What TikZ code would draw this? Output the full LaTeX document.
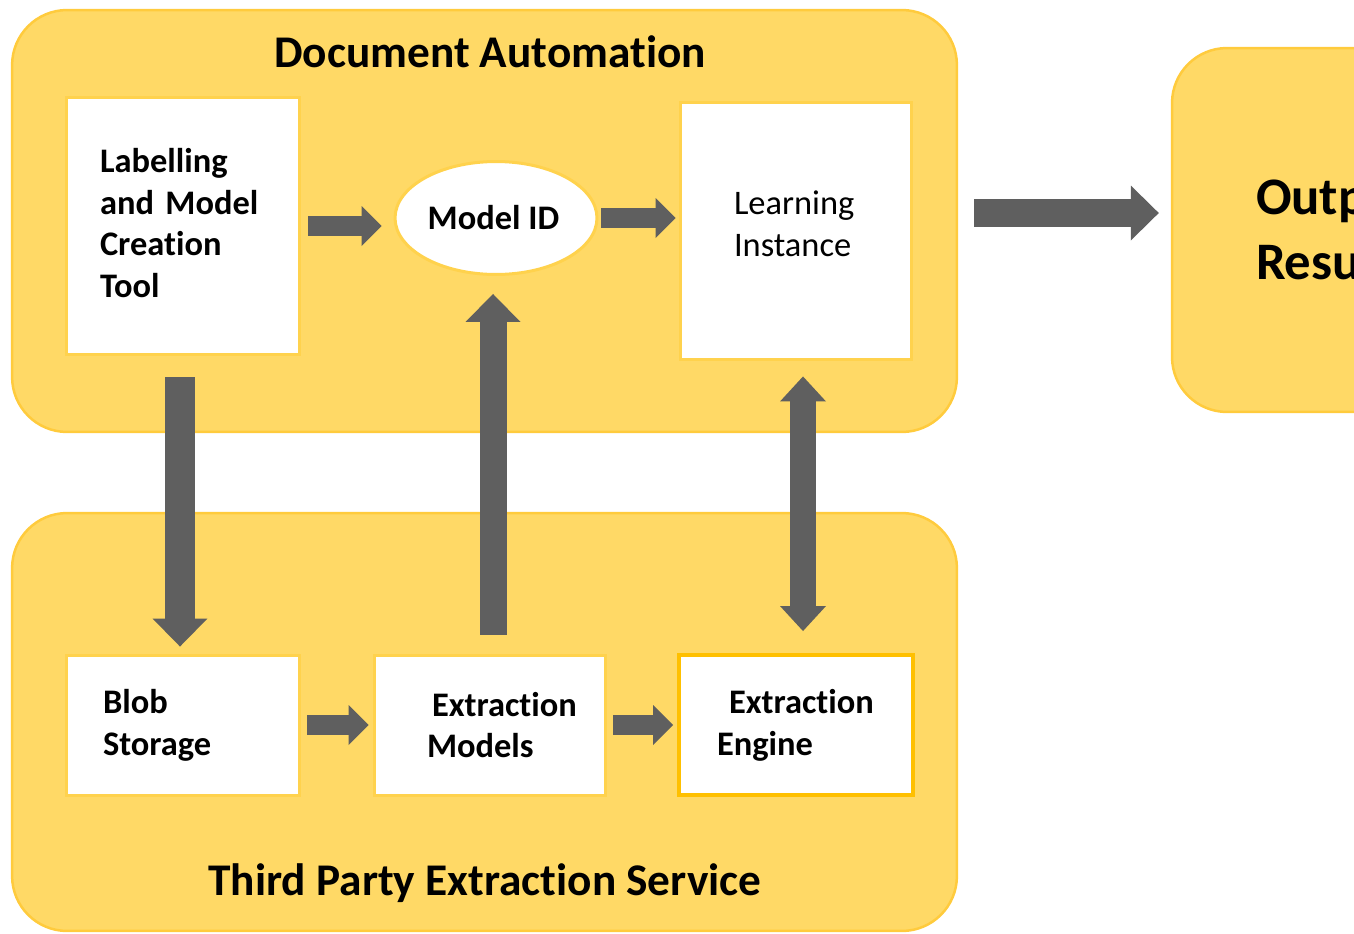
\documentclass[tikz,border=0pt]{standalone}
\usepackage{fontspec}
\setmainfont{Carlito}[Ligatures=NoCommon]
\usetikzlibrary{arrows.meta,shapes.geometric}

\definecolor{panelfill}{HTML}{FFD966}
\definecolor{panelline}{HTML}{FFCB3D}
\definecolor{cardline}{HTML}{FFD24D}
\definecolor{engline}{HTML}{FFC000}
\definecolor{arrgray}{HTML}{5F5F5F}

\newcommand{\cardfont}{\fontsize{19.6}{23.8}\selectfont\bfseries}
\newcommand{\headfont}{\fontsize{25.8}{31}\selectfont\bfseries}
\newcommand{\outfont}{\fontsize{30}{36.8}\selectfont\bfseries}

\begin{document}
\begin{tikzpicture}[x=0.02cm,y=-0.02cm,
  panel/.style={draw=panelline,fill=panelfill,line width=0.05cm,rounded corners=1.1cm,inner sep=0pt},
  card/.style={draw=cardline,fill=white,line width=0.06cm,inner ysep=0pt,align=left,font=\cardfont},
  heading/.style={font=\headfont},
  flowarr/.style={draw=arrgray,line width=0.4cm,-{Triangle[width=0.8cm,length=0.4cm,line width=0pt 0]}},
  bigarr/.style={draw=arrgray,line width=0.54cm,-{Triangle[width=1.1cm,length=0.56cm,line width=0pt 0]}},
  dblarr/.style={draw=arrgray,line width=0.52cm,{Triangle[width=0.92cm,length=0.5cm,line width=0pt 0]}-{Triangle[width=0.92cm,length=0.5cm,line width=0pt 0]}}]
\useasboundingbox (0,0) rectangle (1354,933);
\clip (0,0) rectangle (1354,933);
% panels
\node[panel,minimum width=18.9cm,minimum height=8.44cm] (docauto) at (484.5,221) {};
\node[panel,minimum width=18.9cm,minimum height=8.36cm] (tpes) at (484.5,722) {};
\node[panel,minimum width=6cm,minimum height=7.28cm,align=left,text width=2.64cm,inner xsep=1.68cm,font=\outfont] (output) at (1322,230) {Output\\Results};
\node[heading] (datitle) at (490,52) {Document Automation};
\node[heading] (tptitle) at (485,883) {Third Party Extraction Service};
% top row
\node[card,minimum width=4.68cm,minimum height=5.16cm,text width=3.32cm,inner xsep=0.68cm,text depth=2.63cm] (lmct) at (183,226) {Labelling\\and Model\\Creation\\Tool};
\node[ellipse,draw=cardline,fill=white,line width=0.06cm,minimum width=4.04cm,minimum height=2.26cm,inner sep=0pt,font=\cardfont] (modelid) at (496,218) {\hspace*{-0.1cm}Model ID};
\node[card,minimum width=4.64cm,minimum height=5.16cm,text width=2.48cm,inner xsep=1.08cm,text depth=1.12cm,font=\cardfont\mdseries] (learn) at (796,231) {Learning\\Instance};
% bottom row
\node[card,minimum width=4.68cm,minimum height=2.8cm,text width=3.2cm,inner xsep=0.74cm] (blob) at (183,725) {Blob\\Storage};
\node[card,minimum width=4.64cm,minimum height=2.8cm,text width=2.52cm,inner xsep=1.06cm] (exmod) at (490,725) {\mbox{\hspace*{0.1cm}Extraction}\\Models};
\node[card,draw=engline,line width=0.08cm,minimum width=4.68cm,minimum height=2.8cm,text width=3.16cm,inner xsep=0.76cm] (exeng) at (796,725) {\mbox{\hspace*{0.24cm}Extraction}\\Engine};
% arrows
\coordinate (outin) at ([yshift=0.36cm]learn.east);
\draw[flowarr,shorten <=0.14cm,shorten >=0.24cm] (lmct.east) -- (lmct.east -| modelid.west);
\draw[flowarr,shorten <=0.06cm,shorten >=0.06cm] (modelid.east) -- (modelid.east -| learn.west);
\draw[bigarr,line width=0.56cm,shorten <=1.22cm,shorten >=0.24cm] (outin) -- (outin -| output.west);
\draw[bigarr,line width=0.6cm,shorten <=0.42cm,shorten >=0.14cm] ([xshift=-0.06cm]lmct.south) -- ([xshift=-0.06cm]blob.north);
\draw[bigarr,shorten <=0.38cm,shorten >=0.36cm] ([xshift=0.06cm]exmod.north) -- ([xshift=0.06cm]exmod.north |- modelid.south);
\draw[dblarr,shorten <=0.3cm,shorten >=0.44cm] ([xshift=0.14cm]learn.south) -- ([xshift=0.14cm]exeng.north);
\foreach \a/\b in {blob/exmod,exmod/exeng}
  \draw[flowarr,shorten <=0.12cm,shorten >=0.08cm] (\a) -- (\b);
\end{tikzpicture}
\end{document}
